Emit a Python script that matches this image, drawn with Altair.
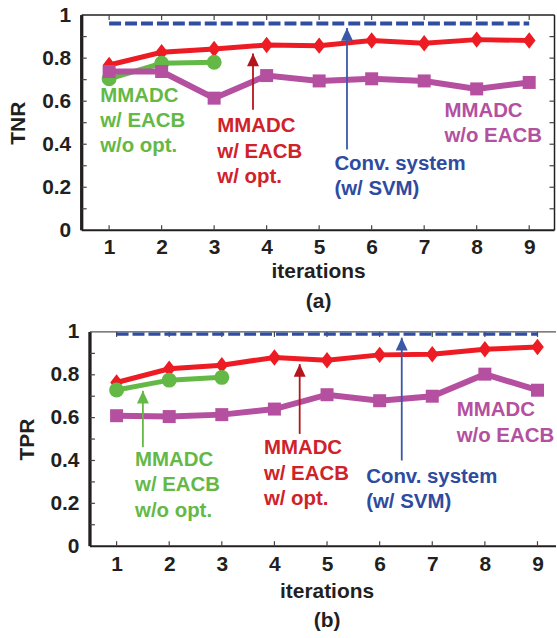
import altair as alt

# ---------------- data ----------------
iterations = [1, 2, 3, 4, 5, 6, 7, 8, 9]
iter_wo_opt = [1, 2, 3]

# (a) TNR
tnr_w_opt = [0.768, 0.827, 0.842, 0.861, 0.858, 0.882, 0.869, 0.886, 0.882]
tnr_wo_opt = [0.704, 0.776, 0.781]
tnr_wo_eacb = [0.738, 0.738, 0.614, 0.719, 0.694, 0.704, 0.694, 0.657, 0.687]
tnr_svm = 0.961

# (b) TPR
tpr_w_opt = [0.764, 0.828, 0.845, 0.881, 0.868, 0.893, 0.896, 0.919, 0.930]
tpr_wo_opt = [0.729, 0.775, 0.788]
tpr_wo_eacb = [0.609, 0.605, 0.614, 0.640, 0.707, 0.679, 0.700, 0.803, 0.728]
tpr_svm = 0.99

y_labels = [0, 0.2, 0.4, 0.6, 0.8, 1]
y_minor = [0.1, 0.2, 0.3, 0.4, 0.5, 0.6, 0.7, 0.8, 0.9]

lbl_wo_opt = ["MMADC", "w/ EACB", "w/o opt."]
lbl_w_opt = ["MMADC", "w/ EACB", "w/ opt."]
lbl_wo_eacb = ["MMADC", "w/o EACB"]
lbl_svm = ["Conv. system", "(w/ SVM)"]

# ---------------- style ----------------
FONT = "Liberation Sans"
RED = "#ED1C24"
GREEN = "#64B946"
PURPLE = "#B4509F"
BLUE = "#2F4EA2"
RED_TXT = "#CF2229"
RED_ARW = "#B3141E"
BLUE_TXT = "#2E4BA0"
BLUE_ARW = "#3A58A8"
INK = "#231F20"
DIAMOND = "M0,-1.1L0.85,0L0,1.1L-0.85,0Z"
ARROW = "M0,0L-0.75,1.6L0.75,1.6Z"


def panel(red, green, purple, svm, svm_w, arrows, labels, ytitle, xtitle,
          x_dom, x_left, width, height, y_off, xt_x, xt_y, lab_pad, right_frame,
          top_w, top_c):
    xs = alt.Scale(domain=x_dom, nice=False, zero=False)
    ys = alt.Scale(domain=[0, 1], nice=False, zero=False)
    x_right = x_dom[1]

    x_axis = alt.Axis(values=iterations, format="d", domain=False, ticks=False, tickSize=0,
                      grid=False, labelFont=FONT, labelFontSize=21, labelFontWeight="bold",
                      labelColor=INK, labelPadding=lab_pad, labelFlush=False, labelOverlap=False,
                      title=xtitle, titleFont=FONT, titleFontSize=21, titleFontWeight="bold",
                      titleColor=INK, titleX=xt_x, titleY=xt_y, titleAlign="center",
                      titleBaseline="top", titleLineHeight=30, titleAngle=0)
    y_axis = alt.Axis(values=y_labels, format="~g", domain=False, ticks=False, tickSize=0,
                      grid=False, offset=y_off, labelFont=FONT, labelFontSize=21,
                      labelFontWeight="bold", labelColor=INK, labelPadding=11,
                      labelBaseline="middle", labelAlign="right", labelFlush=False,
                      labelOverlap=False,
                      title=ytitle, titleFont=FONT, titleFontSize=21, titleFontWeight="bold",
                      titleColor=INK, titleAngle=270, titleX=-63, titleY=height / 2,
                      titleAlign="center", titleBaseline="middle")

    frame = [
        {"x": x_left, "x2": x_left, "y": 0, "y2": 1, "w": 3.3, "c": INK},
        {"x": x_left, "x2": x_right, "y": 0, "y2": 0, "w": 2, "c": INK},
        {"x": x_left, "x2": x_right, "y": 1, "y2": 1, "w": top_w, "c": top_c},
    ]
    if right_frame:
        frame.append({"x": x_right, "x2": x_right, "y": 0, "y2": 1, "w": 1.5, "c": INK})

    X = lambda f="x": alt.X(f + ":Q", scale=xs)
    Y = lambda f="y": alt.Y(f + ":Q", scale=ys)

    layers = []
    layers.append(
        alt.Chart(alt.Data(values=frame)).mark_rule().encode(
            x=alt.X("x:Q", scale=xs, axis=x_axis), x2="x2:Q",
            y=alt.Y("y:Q", scale=ys, axis=y_axis), y2="y2:Q",
            strokeWidth=alt.StrokeWidth("w:Q", scale=None),
            color=alt.Color("c:N", scale=None)))

    # inward ticks
    tick_l = [{"x": x_left, "y": v} for v in y_minor]
    layers.append(alt.Chart(alt.Data(values=tick_l)).mark_tick(
        orient="horizontal", size=5, thickness=1.2, xOffset=2.5, color="#444", opacity=1
    ).encode(x=X(), y=Y()))
    if right_frame:
        tick_r = [{"x": x_right, "y": v} for v in y_minor]
        layers.append(alt.Chart(alt.Data(values=tick_r)).mark_tick(
            orient="horizontal", size=5, thickness=1.2, xOffset=-2.5, color="#444", opacity=1
        ).encode(x=X(), y=Y()))
    tick_b = [{"x": i, "y": 0} for i in iterations]
    layers.append(alt.Chart(alt.Data(values=tick_b)).mark_tick(
        orient="vertical", size=5, thickness=1.2, yOffset=-2.5, color="#444", opacity=1
    ).encode(x=X(), y=Y()))
    tick_t = [{"x": i, "y": 1} for i in iterations]
    layers.append(alt.Chart(alt.Data(values=tick_t)).mark_tick(
        orient="vertical", size=5, thickness=1.2, yOffset=2.5, color="#444", opacity=1
    ).encode(x=X(), y=Y()))

    # conventional system (dashed)
    layers.append(alt.Chart(alt.Data(values=[{"x": iterations[0], "x2": iterations[-1], "y": svm}]))
                  .mark_rule(color=BLUE, strokeWidth=svm_w, strokeDash=[12, 4])
                  .encode(x=X(), x2="x2:Q", y=Y()))

    def series(xv, yv, color, sw, shape, size):
        d = alt.Data(values=[{"x": a, "y": b} for a, b in zip(xv, yv)])
        ln = alt.Chart(d).mark_line(color=color, strokeWidth=sw).encode(x=X(), y=Y())
        pt = alt.Chart(d).mark_point(shape=shape, filled=True, size=size, color=color,
                                     opacity=1, strokeWidth=0).encode(x=X(), y=Y())
        return [ln, pt]

    layers += series(iterations, red, RED, 5, DIAMOND, 225)
    layers += series(iter_wo_opt, green, GREEN, 5, "circle", 225)
    layers += series(iterations, purple, PURPLE, 6, "square", 170)

    # arrows
    ad = alt.Data(values=arrows)
    layers.append(alt.Chart(ad).mark_rule(strokeWidth=1.8).encode(
        x=X(), y=Y("y0"), y2="y1:Q", color=alt.Color("c:N", scale=None)))
    layers.append(alt.Chart(ad).mark_point(shape=ARROW, filled=True, size=256, opacity=1,
                                           strokeWidth=0).encode(
        x=X(), y=Y("y1"), color=alt.Color("c:N", scale=None)))

    # text labels
    layers.append(alt.Chart(alt.Data(values=labels)).mark_text(
        align="left", baseline="top", font=FONT, fontSize=20.5, fontWeight="bold",
        lineHeight=25.4).encode(x=X(), y=Y(), text="t:N", color=alt.Color("c:N", scale=None)))

    return alt.layer(*layers).properties(width=width, height=height)


top = panel(
    tnr_w_opt, tnr_wo_opt, tnr_wo_eacb, tnr_svm, 4,
    arrows=[{"x": 3.74, "y0": 0.56, "y1": 0.822, "c": RED_ARW},
            {"x": 5.53, "y0": 0.375, "y1": 0.94, "c": BLUE_ARW}],
    labels=[{"x": 0.83, "y": 0.671, "t": lbl_wo_opt, "c": GREEN},
            {"x": 3.06, "y": 0.529, "t": lbl_w_opt, "c": RED_TXT},
            {"x": 7.385, "y": 0.601, "t": lbl_wo_eacb, "c": PURPLE},
            {"x": 5.29, "y": 0.354, "t": lbl_svm, "c": BLUE_TXT}],
    ytitle="TNR", xtitle=["iterations", "(a)"],
    x_dom=[0.478, 9.482], x_left=0.478, width=474.5, height=216, y_off=0,
    xt_x=237.25, xt_y=30.8, lab_pad=6.6, right_frame=True, top_w=1.5, top_c=INK)

bottom = panel(
    tpr_w_opt, tpr_wo_opt, tpr_wo_eacb, tpr_svm, 3.3,
    arrows=[{"x": 1.50, "y0": 0.462, "y1": 0.725, "c": GREEN},
            {"x": 4.48, "y0": 0.524, "y1": 0.85, "c": RED_ARW},
            {"x": 6.42, "y0": 0.40, "y1": 0.973, "c": BLUE_ARW}],
    labels=[{"x": 1.35, "y": 0.449, "t": lbl_wo_opt, "c": GREEN},
            {"x": 3.80, "y": 0.503, "t": lbl_w_opt, "c": RED_TXT},
            {"x": 5.744, "y": 0.371, "t": lbl_svm, "c": BLUE_TXT},
            {"x": 7.464, "y": 0.681, "t": lbl_wo_eacb, "c": PURPLE}],
    ytitle="TPR", xtitle=["iterations", "(b)"],
    x_dom=[0.337, 9.352], x_left=0.494, width=476, height=215, y_off=-8.3,
    xt_x=245.7, xt_y=34.1, lab_pad=7.6, right_frame=False, top_w=1.2, top_c="#555")

chart = alt.vconcat(top, bottom, spacing=9).properties(
    padding={"left": 8, "top": 3, "right": 0, "bottom": 0},
    background="white",
).configure_view(strokeWidth=0)

chart.save("out.html", embed_options={"renderer": "svg", "actions": False})
